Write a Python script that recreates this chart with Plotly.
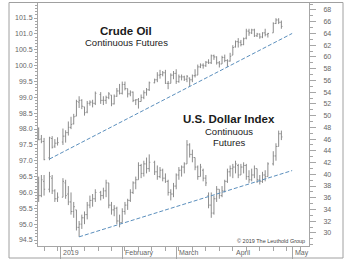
import plotly.graph_objects as go
import pandas as pd

# ---------------- data ----------------
dates = [
    "2018-12-20", "2018-12-21", "2018-12-24", "2018-12-26", "2018-12-27", "2018-12-28", "2018-12-31",
    "2019-01-02", "2019-01-03", "2019-01-04", "2019-01-07", "2019-01-08", "2019-01-09", "2019-01-10",
    "2019-01-11", "2019-01-14", "2019-01-15", "2019-01-16", "2019-01-17", "2019-01-18", "2019-01-22",
    "2019-01-23", "2019-01-24", "2019-01-25", "2019-01-28", "2019-01-29", "2019-01-30", "2019-01-31",
    "2019-02-01", "2019-02-04", "2019-02-05", "2019-02-06", "2019-02-07", "2019-02-08", "2019-02-11",
    "2019-02-12", "2019-02-13", "2019-02-14", "2019-02-15", "2019-02-19", "2019-02-20", "2019-02-21",
    "2019-02-22", "2019-02-25", "2019-02-26", "2019-02-27", "2019-02-28",
    "2019-03-01", "2019-03-04", "2019-03-05", "2019-03-06", "2019-03-07", "2019-03-08", "2019-03-11",
    "2019-03-12", "2019-03-13", "2019-03-14", "2019-03-15", "2019-03-18", "2019-03-19", "2019-03-20",
    "2019-03-21", "2019-03-22", "2019-03-25", "2019-03-26", "2019-03-27", "2019-03-28", "2019-03-29",
    "2019-04-01", "2019-04-02", "2019-04-03", "2019-04-04", "2019-04-05", "2019-04-08", "2019-04-09",
    "2019-04-10", "2019-04-11", "2019-04-12", "2019-04-15", "2019-04-16", "2019-04-17", "2019-04-18",
    "2019-04-22", "2019-04-23", "2019-04-24", "2019-04-25",
]

crude_open = [47.8, 46.0, 45.6, 42.8, 46.1, 44.8, 45.3,
              45.5, 46.5, 47.1, 48.0, 48.6, 49.9, 52.3, 52.6, 51.5, 50.6, 52.1, 52.3, 52.1, 53.6,
              52.6, 52.6, 53.1, 53.5, 52.0, 53.3, 54.2,
              53.8, 55.3, 54.6, 53.7, 54.0, 52.6, 52.7, 52.4, 53.1, 53.9, 54.4, 55.6, 56.1, 56.9,
              57.0, 57.3, 55.5, 55.5, 56.9,
              57.2, 55.8, 56.6, 56.6, 56.2, 56.4, 56.1, 56.8, 56.9, 58.3, 58.6, 58.5, 59.1, 59.0,
              60.2, 60.0, 59.0, 58.8, 59.9, 59.4, 59.3,
              60.3, 61.7, 62.6, 62.5, 62.1, 63.2, 64.4, 64.1, 64.6, 63.6, 63.9, 63.4, 64.1, 63.8,
              64.1, 65.7, 66.3, 65.9]
crude_high = [48.0, 46.7, 46.2, 46.4, 46.5, 46.0, 46.3,
              47.8, 47.5, 49.0, 49.8, 50.3, 52.7, 53.3, 52.8, 51.5, 52.5, 52.6, 52.7, 54.1, 54.0,
              53.3, 53.4, 54.0, 53.5, 53.6, 54.7, 55.4,
              55.8, 55.8, 54.6, 54.3, 54.1, 52.8, 53.0, 53.6, 54.3, 54.7, 55.8, 56.3, 57.4, 57.8,
              57.6, 57.8, 55.9, 57.2, 57.6,
              57.9, 57.0, 57.0, 56.8, 56.9, 56.5, 57.0, 57.9, 58.7, 58.9, 58.9, 59.3, 59.6, 60.4,
              60.4, 60.1, 59.3, 60.2, 60.4, 59.6, 60.7,
              62.0, 62.8, 63.2, 62.9, 63.3, 64.8, 64.8, 64.8, 64.8, 64.1, 64.0, 64.2, 64.8, 64.1,
              65.9, 66.6, 66.6, 66.2]
crude_low = [45.8, 45.3, 42.4, 42.4, 44.4, 44.5, 44.9,
             45.0, 45.4, 46.6, 47.7, 48.5, 49.9, 51.3, 51.1, 50.0, 50.4, 51.7, 51.4, 51.8, 52.0,
             51.8, 52.0, 52.8, 51.6, 51.9, 53.2, 53.6,
             53.6, 54.3, 53.1, 53.3, 52.3, 51.8, 51.2, 52.4, 52.8, 53.4, 54.2, 55.5, 55.7, 56.3,
             56.7, 55.4, 54.5, 55.5, 56.2,
             55.4, 55.6, 56.0, 55.9, 55.7, 55.0, 55.7, 56.5, 56.9, 58.1, 58.0, 58.3, 58.8, 58.8,
             59.5, 58.7, 58.2, 58.8, 59.1, 58.3, 59.2,
             60.3, 61.6, 61.6, 61.8, 62.0, 63.0, 63.6, 63.9, 63.4, 63.4, 63.1, 63.2, 63.5, 63.3,
             64.1, 65.6, 65.6, 64.8]
crude_close = [45.9, 45.6, 42.5, 46.2, 44.6, 45.3, 45.4,
               46.5, 47.1, 48.0, 48.5, 49.8, 52.4, 52.6, 51.6, 50.5, 52.1, 52.3, 52.1, 53.8, 52.6,
               52.6, 53.1, 53.7, 52.0, 53.3, 54.2, 53.8,
               55.3, 54.6, 53.7, 54.0, 52.6, 52.7, 52.4, 53.1, 53.9, 54.4, 55.6, 56.1, 56.9, 57.0,
               57.3, 55.5, 55.5, 56.9, 57.2,
               55.8, 56.6, 56.6, 56.2, 56.7, 56.1, 56.8, 56.9, 58.3, 58.6, 58.5, 59.1, 59.0, 60.2,
               60.0, 59.0, 58.8, 59.9, 59.4, 59.3, 60.1,
               61.6, 62.6, 62.5, 62.1, 63.1, 64.4, 64.1, 64.6, 63.6, 63.9, 63.4, 64.1, 63.8, 64.0,
               65.7, 66.3, 65.9, 65.2]

usd_open = [96.30, 95.90, 96.35, 96.10, 96.45, 96.05, 95.80,
            95.85, 96.30, 95.95, 95.70, 95.40, 95.45, 94.90, 95.00, 95.20, 95.30, 95.60, 95.75, 95.80, 96.00,
            95.90, 96.05, 96.30, 95.60, 95.45, 95.50, 95.10,
            95.05, 95.40, 95.60, 95.75, 96.00, 96.30, 96.40, 96.85, 96.60, 96.90, 96.75, 96.95, 96.65, 96.50,
            96.70, 96.45, 96.35, 96.00, 95.95,
            96.20, 96.55, 96.70, 96.80, 96.90, 97.50, 97.20, 97.10, 96.80, 96.50, 96.70, 96.45, 95.90, 95.60,
            95.35, 95.80, 96.10, 95.90, 96.05, 96.35, 96.65,
            96.75, 96.80, 96.85, 96.55, 96.80, 96.85, 96.50, 96.40, 96.55, 96.75, 96.40, 96.35, 96.55, 96.50,
            96.90, 97.15, 97.45, 97.85]
usd_high = [96.50, 96.55, 96.55, 96.65, 96.55, 96.10, 96.00,
            96.45, 96.40, 96.20, 96.00, 95.70, 95.45, 95.10, 95.30, 95.40, 95.70, 95.90, 95.95, 96.10, 96.05,
            96.15, 96.40, 96.30, 95.70, 95.60, 95.55, 95.30,
            95.50, 95.70, 95.80, 96.10, 96.35, 96.50, 96.95, 96.90, 97.00, 97.10, 97.20, 97.00, 96.85, 96.80,
            96.75, 96.60, 96.40, 96.10, 96.30,
            96.60, 96.80, 96.85, 96.95, 97.65, 97.55, 97.35, 97.10, 96.85, 96.90, 96.75, 96.55, 96.00, 96.00,
            95.90, 96.20, 96.10, 96.20, 96.40, 96.75, 96.85,
            96.90, 97.00, 96.90, 96.90, 96.95, 96.90, 96.70, 96.75, 96.85, 96.75, 96.55, 96.65, 96.70, 96.95,
            97.30, 97.55, 97.95, 97.95]
usd_low = [95.70, 95.85, 95.90, 96.00, 95.95, 95.70, 95.70,
           95.85, 95.80, 95.60, 95.30, 95.20, 94.80, 94.60, 94.85, 95.00, 95.15, 95.50, 95.55, 95.70, 95.75,
           95.80, 95.85, 95.50, 95.30, 95.25, 95.00, 94.90,
           95.05, 95.30, 95.45, 95.70, 95.95, 96.10, 96.40, 96.45, 96.50, 96.60, 96.65, 96.55, 96.40, 96.45,
           96.35, 96.30, 95.90, 95.75, 95.85,
           96.10, 96.40, 96.50, 96.60, 96.90, 97.10, 96.95, 96.70, 96.40, 96.50, 96.35, 96.20, 95.50, 95.20,
           95.30, 95.70, 95.80, 95.85, 96.00, 96.30, 96.50,
           96.45, 96.60, 96.45, 96.55, 96.60, 96.40, 96.30, 96.35, 96.45, 96.30, 96.25, 96.30, 96.35, 96.50,
           96.85, 97.00, 97.45, 97.65]
usd_close = [95.90, 96.40, 96.10, 96.50, 96.05, 95.80, 95.85,
             96.35, 95.90, 95.70, 95.40, 95.55, 94.90, 95.00, 95.20, 95.30, 95.60, 95.75, 95.80, 96.00, 95.90,
             96.05, 96.30, 95.60, 95.45, 95.50, 95.10, 95.05,
             95.40, 95.60, 95.75, 96.00, 96.30, 96.40, 96.85, 96.60, 96.90, 96.75, 96.95, 96.65, 96.50, 96.70,
             96.45, 96.35, 96.00, 95.95, 96.20,
             96.55, 96.70, 96.80, 96.90, 97.50, 97.20, 97.10, 96.80, 96.50, 96.80, 96.45, 96.30, 95.60, 95.35,
             95.80, 96.10, 95.90, 96.05, 96.35, 96.65, 96.75,
             96.80, 96.90, 96.55, 96.80, 96.85, 96.50, 96.40, 96.55, 96.75, 96.40, 96.35, 96.55, 96.50, 96.90,
             97.15, 97.45, 97.85, 97.75]

# trend lines (start / end)
crude_trend_dates = ["2018-12-26", "2019-05-01"]
crude_trend_vals = [42.6, 64.0]
usd_trend_dates = ["2019-01-10", "2019-05-01"]
usd_trend_vals = [94.60, 96.69]

month_ticks = ["2019-01-01", "2019-02-01", "2019-03-01", "2019-04-01", "2019-05-01"]
month_labels = ["2019", "February", "March", "April", "May"]
left_ticks = [94.5 + 0.5 * i for i in range(15)]
right_ticks = list(range(30, 70, 2))

# ---------------- figure ----------------
FONT = "Liberation Sans, Arial, sans-serif"
BAR = "#8c8c8c"
TREND = "#5b8fbd"
AX = "#a6a6a6"
TXT = "#666666"

W, H = 350, 269
L, R, T, B = 38, 309, 3, 246  # plot area in px


def px_x(px):
    return (px - L) / (R - L)


def px_y(py):
    return (B - py) / (B - T)


fig = go.Figure()

fig.add_trace(go.Ohlc(
    x=dates, open=usd_open, high=usd_high, low=usd_low, close=usd_close,
    increasing=dict(line=dict(color=BAR, width=1)),
    decreasing=dict(line=dict(color=BAR, width=1)),
    tickwidth=0.4, hoverinfo="skip", yaxis="y", name="U.S. Dollar Index",
))
fig.add_trace(go.Ohlc(
    x=dates, open=crude_open, high=crude_high, low=crude_low, close=crude_close,
    increasing=dict(line=dict(color=BAR, width=1)),
    decreasing=dict(line=dict(color=BAR, width=1)),
    tickwidth=0.4, hoverinfo="skip", yaxis="y2", name="Crude Oil",
))
fig.add_trace(go.Scatter(
    x=usd_trend_dates, y=usd_trend_vals, mode="lines", yaxis="y",
    line=dict(color=TREND, width=1, dash="4px,2px"), hoverinfo="skip",
))
fig.add_trace(go.Scatter(
    x=crude_trend_dates, y=crude_trend_vals, mode="lines", yaxis="y2",
    line=dict(color=TREND, width=1, dash="4px,2px"), hoverinfo="skip",
))

minor_x = [d.strftime("%Y-%m-%d") for d in pd.date_range("2018-12-24", "2019-05-06", freq="W-MON")]

fig.update_layout(
    width=W, height=H, autosize=False,
    margin=dict(l=L, r=W - R, t=T, b=H - B, pad=0),
    paper_bgcolor="white", plot_bgcolor="white",
    showlegend=False,
    font=dict(family=FONT, size=7, color=TXT),
    xaxis=dict(
        type="date",
        range=["2018-12-19 18:00", "2019-05-09 06:00"],
        rangebreaks=[dict(bounds=["sat", "mon"])],
        rangeslider=dict(visible=False),
        tickmode="array", tickvals=month_ticks, ticktext=[""] * len(month_ticks),
        ticks="outside", ticklen=12, tickwidth=1, tickcolor=AX,
        minor=dict(tickmode="array", tickvals=minor_x, ticks="outside", ticklen=4,
                   tickcolor=AX, tickwidth=1),
        showline=True, linecolor=AX, linewidth=1,
        showgrid=False, zeroline=False, fixedrange=True,
    ),
    yaxis=dict(
        range=[94.311, 101.973],
        tickmode="array", tickvals=left_ticks, tickformat=".1f",
        ticks="outside", ticklen=3, tickcolor=AX,
        minor=dict(dtick=0.1, tick0=94.5, ticks="outside", ticklen=2, tickcolor=AX),
        showline=True, linecolor=AX, linewidth=1,
        showgrid=False, zeroline=False,
        tickfont=dict(family=FONT, size=7, color=TXT),
    ),
    yaxis2=dict(
        range=[27.78, 69.19], overlaying="y", side="right",
        tickmode="array", tickvals=right_ticks,
        ticks="outside", ticklen=6, tickcolor=AX,
        minor=dict(dtick=1, tick0=30, ticks="outside", ticklen=3, tickcolor=AX),
        showline=True, linecolor=AX, linewidth=1,
        showgrid=False, zeroline=False,
        tickfont=dict(family=FONT, size=7, color=TXT),
        ticklabelstandoff=6,
    ),
)

# outer frame
fig.add_shape(type="rect", xref="paper", yref="paper",
              x0=px_x(9), x1=px_x(343), y0=px_y(258), y1=px_y(2.5),
              line=dict(color="#a0a0a0", width=1), fillcolor="rgba(0,0,0,0)", layer="above")

# month labels to the right of the month ticks
for d, lab in zip(month_ticks, month_labels):
    fig.add_annotation(x=d, xref="x", y=px_y(252.5), yref="paper", text=lab,
                       showarrow=False, xanchor="left", yanchor="middle", xshift=1,
                       font=dict(family=FONT, size=7, color=TXT))

texts = [
    ("<b>Crude Oil</b>", 126, 31, 11.5, "#1a1a1a"),
    ("Continuous Futures", 126, 42.5, 9.5, "#1a1a1a"),
    ("<b>U.S. Dollar Index</b>", 229, 119, 11.5, "#1a1a1a"),
    ("Continuous", 229, 131.5, 9.5, "#1a1a1a"),
    ("Futures", 229, 142.5, 9.5, "#1a1a1a"),
]
for t, cx, cy, sz, col in texts:
    fig.add_annotation(x=px_x(cx), y=px_y(cy), xref="paper", yref="paper", text=t,
                       showarrow=False, xanchor="center", yanchor="middle",
                       font=dict(family=FONT, size=sz, color=col))

fig.add_annotation(x=px_x(307), y=px_y(241), xref="paper", yref="paper",
                   text="© 2019 The Leuthold Group", showarrow=False,
                   xanchor="right", yanchor="middle",
                   font=dict(family=FONT, size=5.5, color="#444444"))

fig.write_html("out.html", config={"displayModeBar": False})
